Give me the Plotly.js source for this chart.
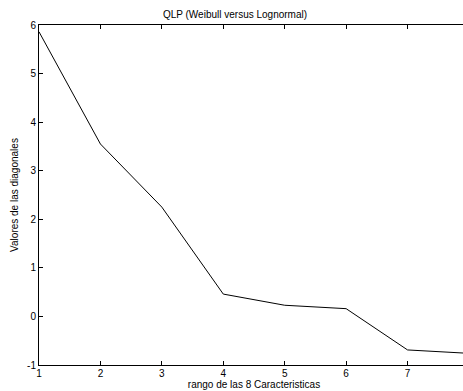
<!DOCTYPE html>
<html>
<head>
<meta charset="utf-8">
<script src="https://cdn.plot.ly/plotly-3.0.1.min.js"></script>
<style>
html,body{margin:0;padding:0;overflow:hidden;width:463px;height:391px;background:#fff;}
#chart{width:470px;height:391px;}
</style>
</head>
<body>
<div id="chart"></div>
<script>
const rangos = [1, 2, 3, 4, 5, 6, 7, 8];
const diagonales = [5.86, 3.55, 2.25, 0.46, 0.23, 0.16, -0.69, -0.76];
const xTicks = [1, 2, 3, 4, 5, 6, 7, 8];
const yTicks = [-1, 0, 1, 2, 3, 4, 5, 6];

const font = {family: 'Liberation Sans, Arial, sans-serif', size: 10, color: '#000'};

Plotly.newPlot('chart', [{
  x: rangos,
  y: diagonales,
  type: 'scatter',
  mode: 'lines',
  line: {color: '#000', width: 1},
  hoverinfo: 'none'
}], {
  width: 470,
  height: 391,
  margin: {l: 39, r: 1, t: 25, b: 25.5},
  paper_bgcolor: '#fff',
  plot_bgcolor: '#fff',
  font: font,
  showlegend: false,
  title: {text: 'QLP (Weibull versus Lognormal)', font: font, x: 0.5, xanchor: 'center', y: 0.962, yanchor: 'middle'},
  xaxis: {
    range: [1, 8],
    tickvals: xTicks,
    ticktext: xTicks.map(String),
    ticks: 'inside', ticklen: 4, tickcolor: '#000', tickwidth: 1,
    showline: true, linecolor: '#000', linewidth: 1, mirror: 'ticks',
    showgrid: false, zeroline: false,
    tickfont: font,
    ticklabelstandoff: -1,
    title: {text: 'rango de las 8 Caracteristicas', font: font, standoff: 1}
  },
  yaxis: {
    range: [-1, 6],
    tickvals: yTicks,
    ticktext: yTicks.map(String),
    ticks: 'inside', ticklen: 4, tickcolor: '#000', tickwidth: 1,
    showline: true, linecolor: '#000', linewidth: 1, mirror: 'ticks',
    showgrid: false, zeroline: false,
    tickfont: font,
    title: {text: 'Valores de las diagonales', font: font, standoff: 6}
  }
}, {staticPlot: true, displayModeBar: false});
</script>
</body>
</html>
